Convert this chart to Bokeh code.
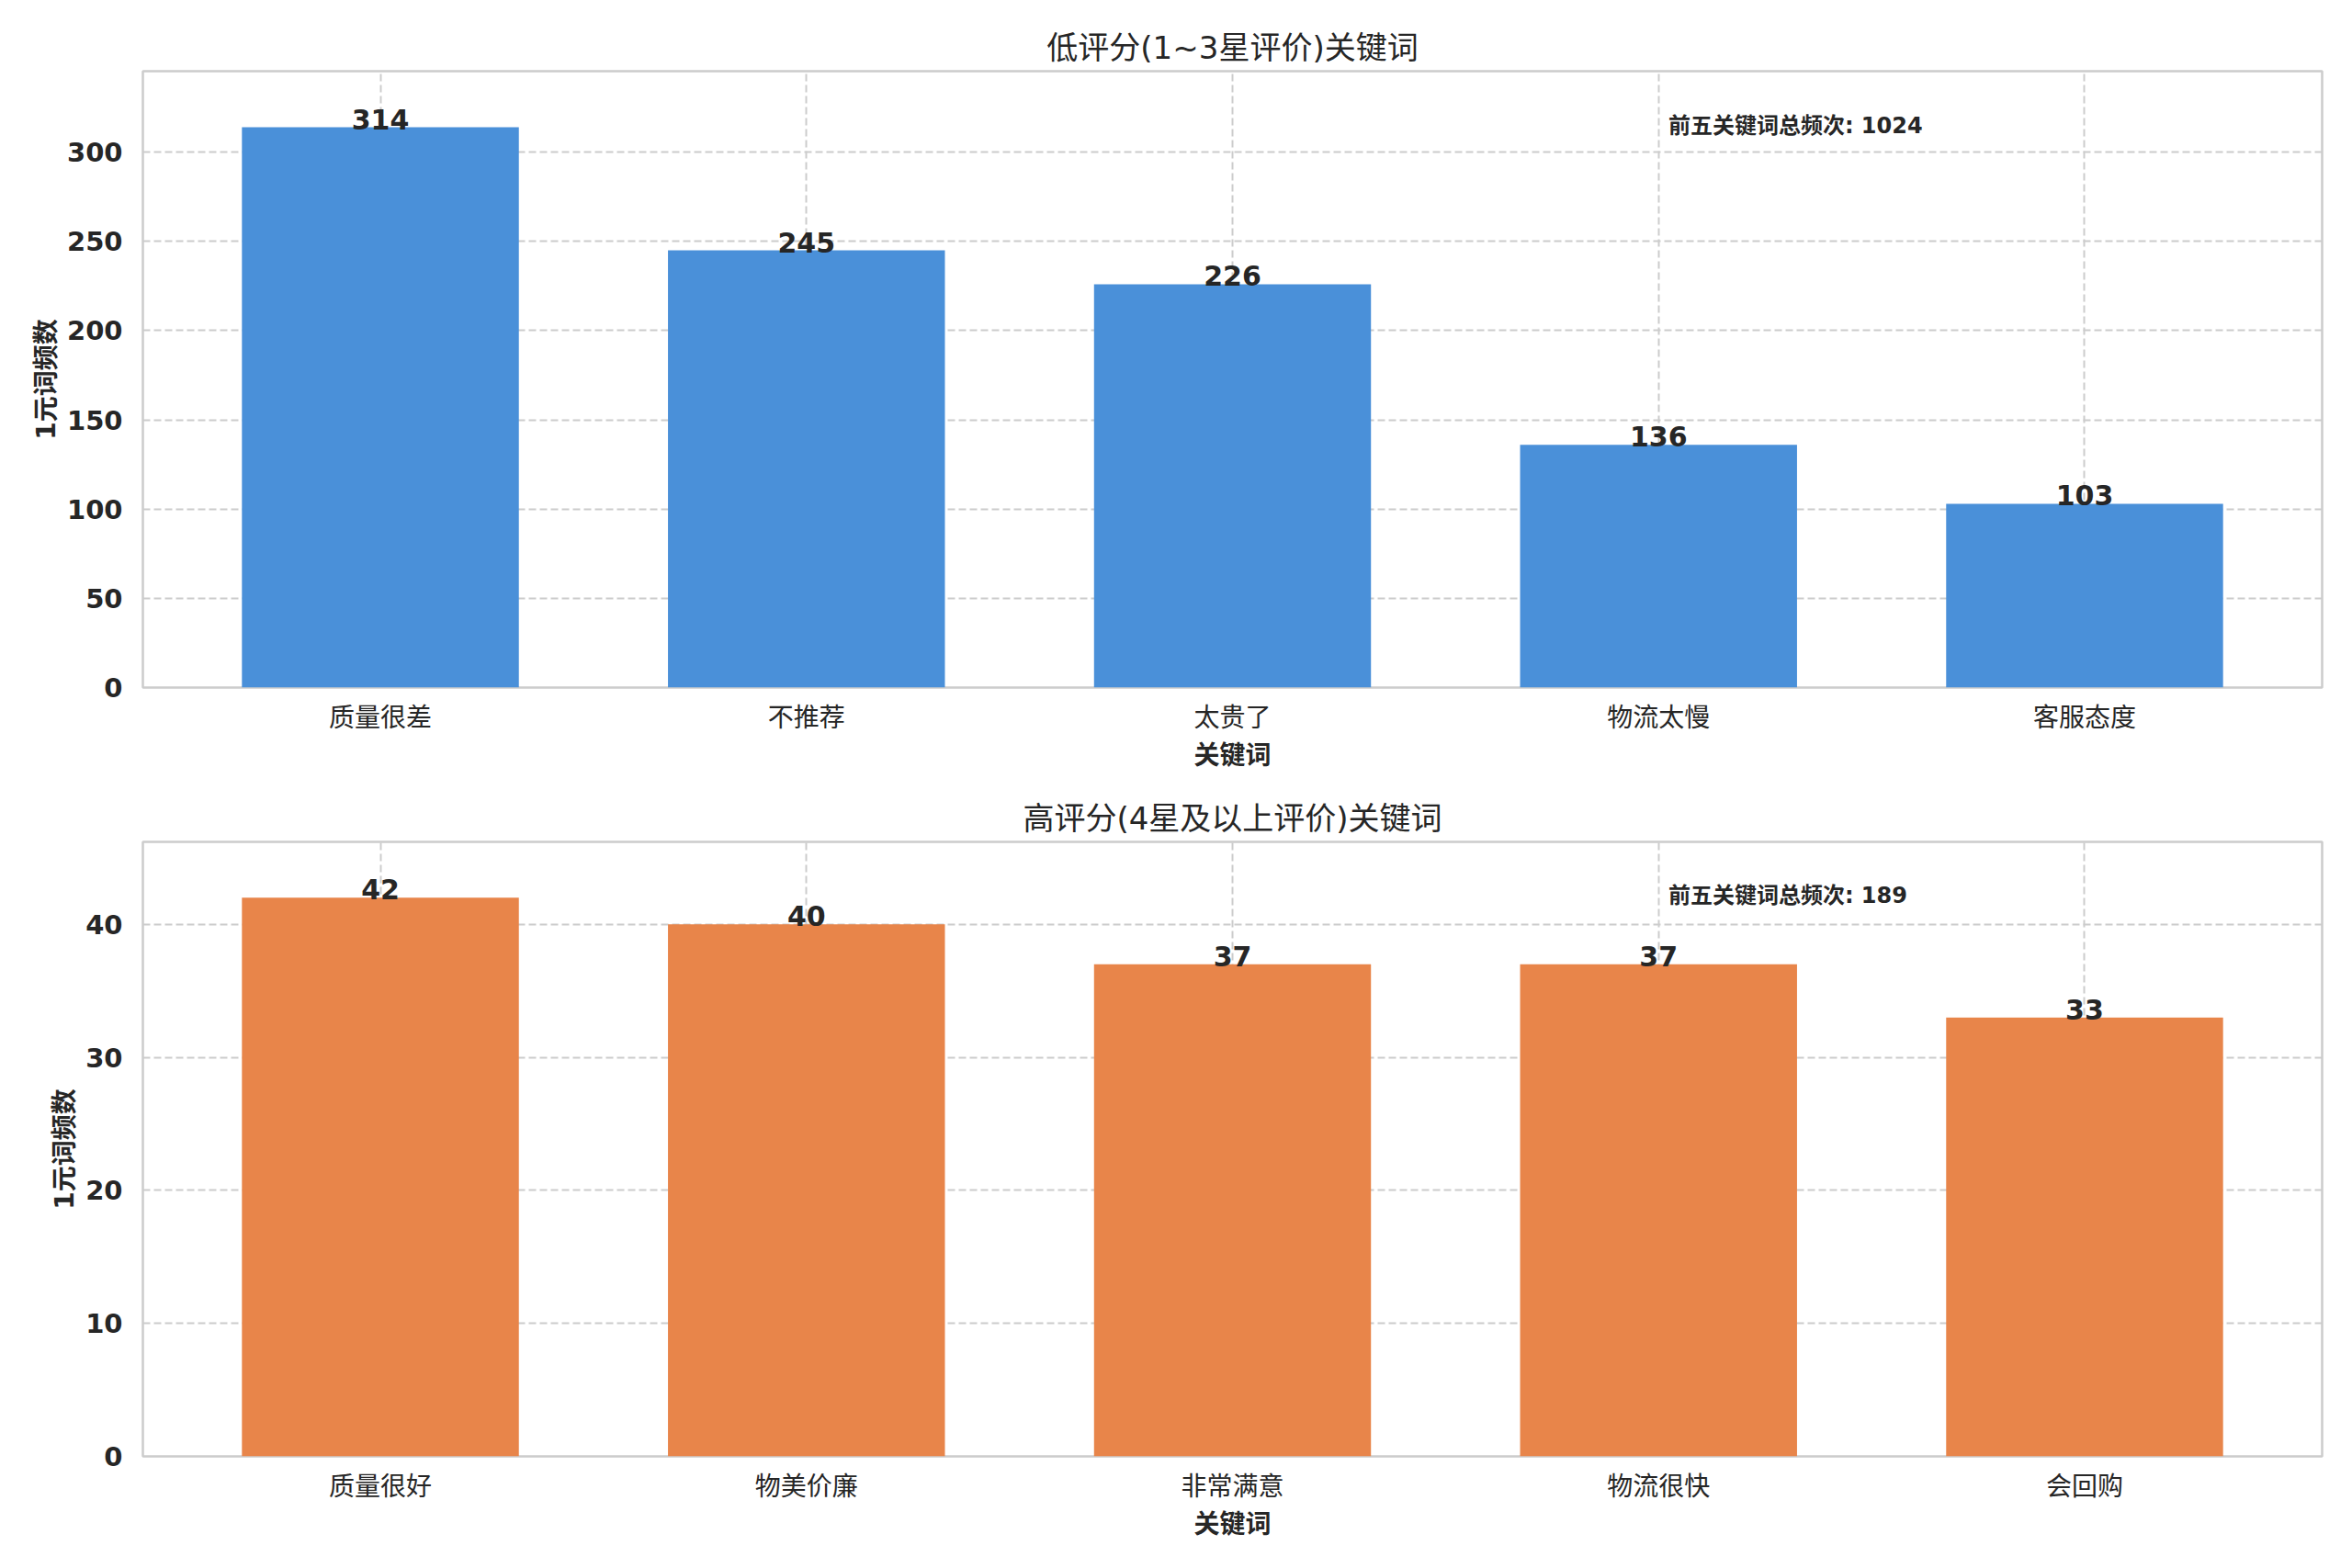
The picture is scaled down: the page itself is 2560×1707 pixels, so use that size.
from bokeh.plotting import figure
from bokeh.layouts import column
from bokeh.models import Range1d, FixedTicker, Label
from bokeh.core.properties import value
from bokeh.embed import file_html
from bokeh.resources import INLINE

# ---- data ----
low_categories = ["质量很差", "不推荐", "太贵了", "物流太慢", "客服态度"]
low_values = [314, 245, 226, 136, 103]
low_yticks = [0, 50, 100, 150, 200, 250, 300]

high_categories = ["质量很好", "物美价廉", "非常满意", "物流很快", "会回购"]
high_values = [42, 40, 37, 37, 33]
high_yticks = [0, 10, 20, 30, 40]

title_low = "低评分(1~3星评价)关键词"
title_high = "高评分(4星及以上评价)关键词"
x_label = "关键词"
y_label = "1元词频数"
note_prefix = "前五关键词总频次"

FONT = "DejaVu Sans, Noto Sans CJK SC"
TXT = "#262626"
GRID = "#cccccc"


def make(cats, vals, yticks, color, title, height, btop, bbottom):
    n = len(cats)
    xs = list(range(n))
    bw = 0.65
    span = (n - 1) + bw
    lo = -bw / 2 - 0.05 * span
    hi = (n - 1) + bw / 2 + 0.05 * span
    ymax = max(vals) * 1.1
    p = figure(width=2544, height=height, output_backend="svg", toolbar_location=None,
               x_range=Range1d(lo, hi), y_range=Range1d(0, ymax),
               min_border_left=155, min_border_right=17,
               min_border_top=btop, min_border_bottom=bbottom)
    p.background_fill_color = "white"
    p.border_fill_color = "white"
    p.outline_line_color = GRID
    p.outline_line_width = 2.5

    p.vbar(x=xs, top=vals, width=bw, bottom=0, fill_color=color, line_color=None)
    p.text(x=xs, y=vals, text=[str(v) for v in vals], text_align="center",
           text_baseline="alphabetic", text_font=value(FONT), text_font_size="30px",
           text_font_style="bold", text_color=TXT, y_offset=-9)

    p.title.text = title
    p.title.align = "center"
    p.title.text_font = FONT
    p.title.text_font_size = "34px"
    p.title.text_font_style = "normal"
    p.title.text_color = TXT
    p.title.standoff = 12

    xa = p.xaxis[0]
    xa.ticker = FixedTicker(ticks=xs)
    xa.major_label_overrides = {i: c for i, c in enumerate(cats)}
    xa.major_label_text_font = FONT
    xa.major_label_text_font_size = "28px"
    xa.major_label_text_color = TXT
    xa.major_label_standoff = 10
    xa.major_tick_line_color = None
    xa.minor_tick_line_color = None
    xa.axis_line_color = None
    xa.axis_label = x_label
    xa.axis_label_text_font = FONT
    xa.axis_label_text_font_size = "28px"
    xa.axis_label_text_font_style = "bold"
    xa.axis_label_text_color = TXT
    xa.axis_label_standoff = 5

    ya = p.yaxis[0]
    ya.ticker = FixedTicker(ticks=yticks)
    ya.major_label_text_font = FONT
    ya.major_label_text_font_size = "29px"
    ya.major_label_text_font_style = "bold"
    ya.major_label_text_color = TXT
    ya.major_label_standoff = 16
    ya.major_tick_line_color = None
    ya.minor_tick_line_color = None
    ya.axis_line_color = None
    ya.axis_label = y_label
    ya.axis_label_text_font = FONT
    ya.axis_label_text_font_size = "28px"
    ya.axis_label_text_font_style = "bold"
    ya.axis_label_text_color = TXT
    ya.axis_label_standoff = 3

    p.xgrid.ticker = FixedTicker(ticks=xs)
    p.ygrid.ticker = FixedTicker(ticks=yticks)
    for g in (p.xgrid[0], p.ygrid[0]):
        g.grid_line_color = GRID
        g.grid_line_dash = "8 4"
        g.grid_line_width = 2

    note = Label(x=lo + 0.70 * (hi - lo), y=ymax * 0.912,
                 text=f"{note_prefix}: {sum(vals)}", text_font=FONT,
                 text_font_size="24px", text_font_style="bold", text_color=TXT,
                 text_baseline="middle", text_align="left")
    p.add_layout(note)
    return p


p1 = make(low_categories, low_values, low_yticks, "#4A90D9", title_low, 860, 77, 112)
p2 = make(high_categories, high_values, high_yticks, "#E8854A", title_high, 831, 56, 106)

layout = column(p1, p2, spacing=0)
open("out.html", "w").write(file_html(layout, INLINE))
